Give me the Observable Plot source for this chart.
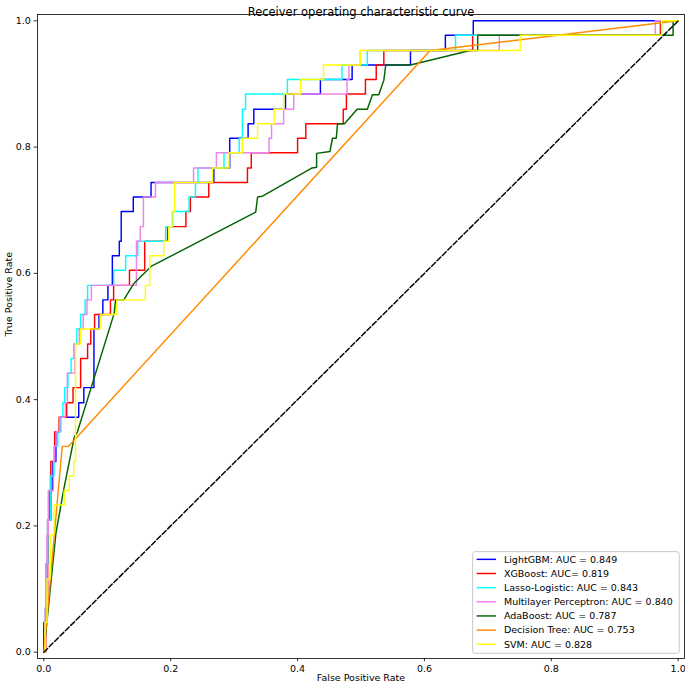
<!DOCTYPE html>
<html>
<head>
<meta charset="utf-8">
<script src="https://cdn.jsdelivr.net/npm/d3@7"></script>
<script src="https://cdn.jsdelivr.net/npm/@observablehq/plot@0.6"></script>
<style>
  html, body { margin: 0; padding: 0; background: white; }
</style>
</head>
<body>
<div id="chart"></div>
<script>
// ---- Data ----
const title = "Receiver operating characteristic curve";
const xLabel = "False Positive Rate";
const yLabel = "True Positive Rate";
const axisTicks = [0, 0.2, 0.4, 0.6, 0.8, 1.0];

const modelNames = ["LightGBM", "XGBoost", "Lasso-Logistic", "Multilayer Perceptron", "AdaBoost", "Decision Tree", "SVM"];
const modelLabels = [
  "LightGBM: AUC = 0.849",
  "XGBoost: AUC= 0.819",
  "Lasso-Logistic: AUC = 0.843",
  "Multilayer Perceptron: AUC = 0.840",
  "AdaBoost: AUC = 0.787",
  "Decision Tree: AUC = 0.753",
  "SVM: AUC = 0.828"
];
const modelColors = ["blue", "red", "cyan", "violet", "darkgreen", "darkorange", "yellow"];
// step = ROC corners listed as (fpr where it rises, tpr reached); linear = plain vertices
const modelCurves = ["step-after", "step-after", "step-after", "step-after", "linear", "linear", "step-after"];

const lgbmFpr = [0, 0, 0.003, 0.006, 0.009, 0.014, 0.019, 0.025, 0.055, 0.063, 0.079, 0.087, 0.093, 0.101, 0.108, 0.119, 0.122, 0.141, 0.169, 0.268, 0.293, 0.322, 0.331, 0.381, 0.436, 0.486, 0.578, 0.633, 0.677, 1];
const lgbmTpr = [0, 0.047, 0.140, 0.209, 0.256, 0.302, 0.349, 0.372, 0.395, 0.419, 0.512, 0.535, 0.558, 0.581, 0.628, 0.651, 0.698, 0.721, 0.744, 0.767, 0.814, 0.837, 0.860, 0.884, 0.907, 0.930, 0.953, 0.977, 1, 1];

const xgbFpr = [0, 0.003, 0.006, 0.011, 0.017, 0.024, 0.036, 0.046, 0.058, 0.069, 0.074, 0.080, 0.105, 0.110, 0.135, 0.159, 0.195, 0.224, 0.231, 0.260, 0.321, 0.327, 0.400, 0.413, 0.472, 0.477, 0.507, 0.524, 0.536, 0.676, 0.972, 1];
const xgbTpr = [0, 0.093, 0.209, 0.302, 0.349, 0.372, 0.395, 0.419, 0.465, 0.488, 0.512, 0.535, 0.558, 0.581, 0.605, 0.651, 0.674, 0.698, 0.721, 0.744, 0.767, 0.791, 0.814, 0.837, 0.860, 0.884, 0.907, 0.930, 0.953, 0.977, 1, 1];

const lassoFpr = [0, 0.002, 0.003, 0.006, 0.010, 0.016, 0.022, 0.027, 0.030, 0.033, 0.038, 0.043, 0.047, 0.052, 0.058, 0.065, 0.069, 0.110, 0.129, 0.148, 0.192, 0.203, 0.229, 0.239, 0.243, 0.284, 0.308, 0.313, 0.318, 0.384, 0.470, 0.510, 0.649, 0.974, 1];
const lassoTpr = [0, 0.070, 0.140, 0.209, 0.279, 0.326, 0.349, 0.372, 0.395, 0.419, 0.442, 0.465, 0.488, 0.512, 0.535, 0.558, 0.581, 0.605, 0.628, 0.651, 0.674, 0.698, 0.721, 0.744, 0.767, 0.791, 0.814, 0.860, 0.884, 0.907, 0.930, 0.953, 0.977, 1, 1];

const mlpFpr = [0, 0.002, 0.005, 0.007, 0.015, 0.017, 0.019, 0.025, 0.034, 0.037, 0.049, 0.056, 0.062, 0.068, 0.075, 0.146, 0.152, 0.157, 0.176, 0.236, 0.272, 0.355, 0.359, 0.378, 0.394, 0.478, 0.481, 0.499, 0.718, 0.964, 1];
const mlpTpr = [0, 0.070, 0.186, 0.256, 0.302, 0.326, 0.349, 0.372, 0.395, 0.442, 0.488, 0.512, 0.535, 0.558, 0.581, 0.651, 0.674, 0.721, 0.744, 0.767, 0.791, 0.814, 0.837, 0.860, 0.884, 0.907, 0.930, 0.953, 0.977, 1, 1];

const adaFpr = [0, 0.019, 0.031, 0.048, 0.053, 0.111, 0.113, 0.126, 0.142, 0.161, 0.169, 0.334, 0.337, 0.344, 0.423, 0.430, 0.430, 0.451, 0.455, 0.461, 0.463, 0.474, 0.494, 0.510, 0.518, 0.528, 0.536, 0.539, 0.578, 0.672, 0.684, 0.684, 0.992, 0.992, 1];
const adaTpr = [0, 0.188, 0.256, 0.341, 0.349, 0.537, 0.558, 0.558, 0.584, 0.603, 0.611, 0.697, 0.721, 0.722, 0.767, 0.768, 0.790, 0.793, 0.814, 0.814, 0.837, 0.837, 0.860, 0.860, 0.883, 0.883, 0.906, 0.930, 0.930, 0.953, 0.953, 0.977, 0.977, 1, 1];

const treeFpr = [0, 0.029, 0.039, 0.609, 1];
const treeTpr = [0, 0.326, 0.326, 0.953, 1];

const svmFpr = [0, 0.002, 0.005, 0.010, 0.016, 0.032, 0.040, 0.047, 0.050, 0.058, 0.089, 0.115, 0.160, 0.167, 0.189, 0.197, 0.202, 0.206, 0.266, 0.292, 0.313, 0.337, 0.363, 0.378, 0.405, 0.441, 0.499, 0.751, 0.974, 1];
const svmTpr = [0, 0.047, 0.116, 0.186, 0.233, 0.256, 0.279, 0.302, 0.488, 0.512, 0.535, 0.558, 0.581, 0.628, 0.651, 0.674, 0.698, 0.744, 0.767, 0.791, 0.814, 0.837, 0.860, 0.884, 0.907, 0.930, 0.953, 0.977, 1, 1];

const chanceFpr = [0, 1];
const chanceTpr = [0, 1];

// ---- Build tables ----
const fprs = [lgbmFpr, xgbFpr, lassoFpr, mlpFpr, adaFpr, treeFpr, svmFpr];
const tprs = [lgbmTpr, xgbTpr, lassoTpr, mlpTpr, adaTpr, treeTpr, svmTpr];
const series = modelNames.map((name, i) => ({
  name, color: modelColors[i], curve: modelCurves[i],
  rows: fprs[i].map((f, j) => ({fpr: f, tpr: tprs[i][j]}))
}));
const chance = chanceFpr.map((f, j) => ({fpr: f, tpr: chanceTpr[j]}));

const W = 685, H = 686;
const M = {top: 14, right: 1, bottom: 28, left: 37};
const fmt = d3.format(".1f");

const chart = Plot.plot({
  width: W, height: H,
  marginTop: M.top, marginRight: M.right, marginBottom: M.bottom, marginLeft: M.left,
  style: {fontFamily: "DejaVu Sans, sans-serif", fontSize: "9.5px", background: "white", color: "black"},
  x: {domain: [-0.01, 1.01]},
  y: {domain: [-0.01, 1.01]},
  marks: [
    ...series.map(s => Plot.line(s.rows, {x: "fpr", y: "tpr", stroke: s.color, strokeWidth: 1.45, curve: s.curve})),
    Plot.line(chance, {x: "fpr", y: "tpr", stroke: "black", strokeWidth: 1.45, strokeDasharray: "5.3,2.3"}),
    Plot.frame({stroke: "black", strokeWidth: 0.8}),
    Plot.axisX({ticks: axisTicks, tickFormat: fmt, tickSize: 3.3, tickPadding: 3.3, label: null, strokeWidth: 0.8, fontSize: 9.5}),
    Plot.axisY({ticks: axisTicks, tickFormat: fmt, tickSize: 3.3, tickPadding: 3.3, label: null, strokeWidth: 0.8, fontSize: 9.5}),
    Plot.text([title], {text: d => d, frameAnchor: "top", dy: -7, fontSize: 11.5, fill: "black"}),
    Plot.text([xLabel], {text: d => d, frameAnchor: "bottom", dy: 22, fontSize: 9.5, fill: "black"}),
    Plot.text([yLabel], {text: d => d, frameAnchor: "left", dx: -29, rotate: -90, fontSize: 9.5, fill: "black"})
  ]
});

// ---- Legend (lower right, inside the frame) ----
const pad = 4.75, boxW = 206.6, boxH = 101.6, rowH = 14.15;
const bx = W - M.right - pad - boxW;
const by = H - M.bottom - pad - boxH;
const lg = d3.select(chart).append("g")
  .attr("font-family", "DejaVu Sans, sans-serif")
  .attr("font-size", 9.5)
  .attr("text-anchor", "start");
lg.append("rect")
  .attr("x", bx).attr("y", by).attr("width", boxW).attr("height", boxH)
  .attr("rx", 2.5).attr("ry", 2.5)
  .style("fill", "white").style("fill-opacity", 0.85)
  .style("stroke", "#c8c8c8").style("stroke-width", "1px");
modelLabels.forEach((label, i) => {
  const cy = by + 7.7 + i * rowH;
  lg.append("line")
    .attr("x1", bx + 4).attr("x2", bx + 23.3).attr("y1", cy).attr("y2", cy)
    .style("stroke", modelColors[i]).style("stroke-width", "1.45px");
  lg.append("text")
    .attr("x", bx + 31.3).attr("y", cy).attr("dy", "0.35em")
    .style("text-anchor", "start")
    .style("fill", "black").text(label);
});

document.getElementById("chart").appendChild(chart);
</script>
</body>
</html>
